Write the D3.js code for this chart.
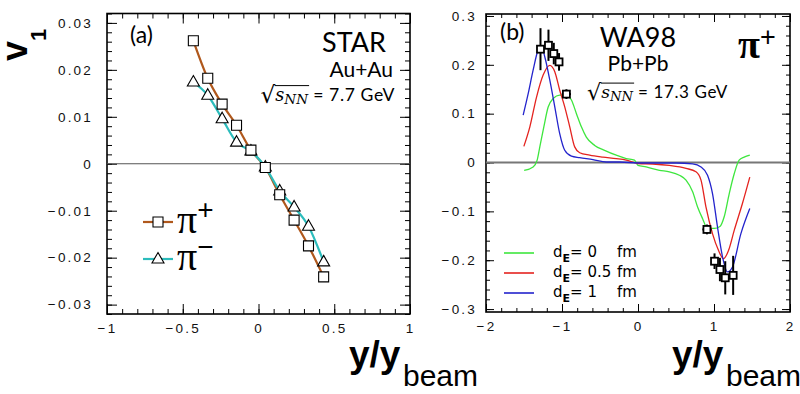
<!DOCTYPE html>
<html><head><meta charset="utf-8">
<script src="https://cdn.jsdelivr.net/npm/d3@7"></script>
<style>body{margin:0;background:#fff}svg{display:block}</style>
</head><body>
<svg id="chart" width="800" height="394"></svg>
<script>
// ---------- Panel (a): STAR Au+Au 7.7 GeV ----------
const aX        = [-0.43, -0.335, -0.24, -0.145, -0.05, 0.045, 0.14, 0.235, 0.33, 0.43];
const aPiPlus   = [0.0262, 0.0182, 0.0127, 0.0082, 0.0029, -0.0008, -0.0066, -0.012, -0.0175, -0.0241];
const aPiMinus  = [0.0174, 0.0146, 0.0096, 0.0046, 0.0027, -0.0007, -0.0058, -0.0092, -0.0133, -0.0209];
const aXTicks   = [-1, -0.5, 0, 0.5, 1];
const aYTicks   = [-0.03, -0.02, -0.01, 0, 0.01, 0.02, 0.03];

// ---------- Panel (b): WA98 Pb+Pb 17.3 GeV ----------
const bDataX    = [-1.283, -1.178, -1.108, -1.039, -0.942, 0.907, 1.007, 1.078, 1.148, 1.252];
const bDataY    = [0.232, 0.240, 0.223, 0.206, 0.140, -0.137, -0.202, -0.219, -0.236, -0.231];
const bDataYErr = [0.043, 0.032, 0.022, 0.018, 0.010, 0.010, 0.016, 0.024, 0.034, 0.040];
const bDataXErr = [0, 0, 0, 0, 0.06, 0.06, 0, 0, 0, 0];

const bGreenX = [-1.498,-1.38,-1.327,-1.292,-1.239,-1.183,-1.117,-1.03,-0.942,-0.876,-0.81,-0.745,-0.68,-0.57,-0.44,-0.286,-0.155,-0.046,0,0.107,0.282,0.413,0.544,0.632,0.719,0.784,0.85,0.915,1.003,1.078,1.134,1.2,1.266,1.331,1.397,1.471];
const bGreenY = [-0.016,-0.009,0.005,0.032,0.073,0.113,0.131,0.138,0.138,0.128,0.100,0.073,0.052,0.035,0.025,0.015,0.008,0.005,-0.006,-0.009,-0.016,-0.019,-0.026,-0.036,-0.060,-0.091,-0.115,-0.135,-0.135,-0.131,-0.111,-0.064,-0.023,0.005,0.011,0.015];
const bRedX = [-1.502,-1.423,-1.335,-1.248,-1.161,-1.095,-1.03,-0.964,-0.898,-0.833,-0.767,-0.636,-0.462,-0.286,-0.155,0,0.194,0.413,0.632,0.763,0.829,0.894,0.981,1.06,1.125,1.191,1.266,1.374,1.471];
const bRedY = [0.033,0.073,0.134,0.179,0.199,0.186,0.148,0.114,0.073,0.032,0.020,0.015,0.011,0.008,0.005,-0.002,-0.003,-0.006,-0.012,-0.019,-0.036,-0.091,-0.146,-0.18,-0.197,-0.18,-0.139,-0.084,-0.030];
const bBlueX = [-1.511,-1.445,-1.38,-1.314,-1.27,-1.226,-1.161,-1.095,-1.03,-0.964,-0.876,-0.767,-0.593,-0.417,-0.243,0,0.239,0.5,0.719,0.829,0.915,0.981,1.046,1.112,1.177,1.243,1.353,1.471];
const bBlueY = [0.097,0.141,0.189,0.230,0.237,0.216,0.169,0.114,0.059,0.025,0.013,0.010,0.006,0.001,0.001,-0.001,-0.001,-0.001,-0.003,-0.009,-0.026,-0.064,-0.132,-0.193,-0.224,-0.214,-0.146,-0.094];
const bXTicks = [-2, -1, 0, 1, 2];
const bYTicks = [-0.3, -0.2, -0.1, 0, 0.1, 0.2, 0.3];
const bLegendLabels = ["0", "0.5", "1"];

const colPlus = "#b0581c", colMinus = "#2cbcbc";
const colGreen = "#3ee63e", colRed = "#e4231f", colBlue = "#2323cc";

const svg = d3.select("#chart");
const tickFont = "'Liberation Sans', Arial, sans-serif";
const annFont = "Lato, 'Liberation Sans', sans-serif";

const xa = d3.scaleLinear().domain([-1, 1]).range([107, 410]);
const ya = d3.scaleLinear().domain([-0.032, 0.032]).range([314, 13.5]);
const xb = d3.scaleLinear().domain([-2, 2]).range([486, 790]);
const yb = d3.scaleLinear().domain([-0.306, 0.304]).range([312, 14]);

const fmt = d => d3.format("~g")(d);

function frame(x, y, xMaj, xMin, yMaj, yMin, L, l, padX, padY) {
  const g = svg.append("g");
  const [x0, x1] = x.range(), [y0, y1] = y.range();
  const style = sel => {
    sel.select(".domain").remove();
    sel.attr("font-family", tickFont).attr("font-size", 13.5);
    sel.selectAll("line").attr("stroke", "#000").attr("stroke-width", 1);
    sel.selectAll("text").attr("fill", "#111").attr("letter-spacing", "2.2px");
  };
  g.append("g").attr("transform", `translate(0,${y0})`).call(d3.axisBottom(x).tickValues(xMaj).tickSize(-L).tickPadding(padX).tickFormat(fmt)).call(style);
  g.append("g").attr("transform", `translate(0,${y0})`).call(d3.axisBottom(x).tickValues(xMin).tickSize(-l).tickFormat("")).call(style);
  g.append("g").attr("transform", `translate(0,${y1})`).call(d3.axisTop(x).tickValues(xMaj).tickSize(-L).tickFormat("")).call(style);
  g.append("g").attr("transform", `translate(0,${y1})`).call(d3.axisTop(x).tickValues(xMin).tickSize(-l).tickFormat("")).call(style);
  g.append("g").attr("transform", `translate(${x0},0)`).call(d3.axisLeft(y).tickValues(yMaj).tickSize(-L).tickPadding(padY).tickFormat(fmt)).call(style);
  g.append("g").attr("transform", `translate(${x0},0)`).call(d3.axisLeft(y).tickValues(yMin).tickSize(-l).tickFormat("")).call(style);
  g.append("g").attr("transform", `translate(${x1},0)`).call(d3.axisRight(y).tickValues(yMaj).tickSize(-L).tickFormat("")).call(style);
  g.append("g").attr("transform", `translate(${x1},0)`).call(d3.axisRight(y).tickValues(yMin).tickSize(-l).tickFormat("")).call(style);
  g.append("rect").attr("x", x0).attr("y", y1).attr("width", x1 - x0).attr("height", y0 - y1)
    .attr("fill", "none").attr("stroke", "#000").attr("stroke-width", 1.6);
  return g;
}

// ---------- Panel (a) ----------
const aXMin = d3.range(-10, 11).map(v => v / 10);
const aYMin = d3.range(-16, 17).map(v => v / 500);
frame(xa, ya, aXTicks, aXMin, aYTicks, aYMin, 10, 5, 9, 14);

svg.append("line").attr("x1", xa(-1)).attr("x2", xa(1)).attr("y1", ya(0)).attr("y2", ya(0))
  .attr("stroke", "#555").attr("stroke-width", 1);

const lineA = d3.line().curve(d3.curveMonotoneX);
svg.append("path").attr("d", lineA(aX.map((v, i) => [xa(v), ya(aPiPlus[i])])))
  .attr("fill", "none").attr("stroke", colPlus).attr("stroke-width", 2.2);
svg.append("path").attr("d", lineA(aX.map((v, i) => [xa(v), ya(aPiMinus[i])])))
  .attr("fill", "none").attr("stroke", colMinus).attr("stroke-width", 2.2);

const sq = "M-5,-5H5V5H-5Z";
const tri = "M0,-6.5L6,4L-6,4Z";
svg.append("g").selectAll("path").data(aX).join("path")
  .attr("transform", (v, i) => `translate(${xa(v)},${ya(aPiMinus[i])})`).attr("d", tri)
  .attr("fill", "#fff").attr("stroke", "#000").attr("stroke-width", 1.1);
svg.append("g").selectAll("path").data(aX).join("path")
  .attr("transform", (v, i) => `translate(${xa(v)},${ya(aPiPlus[i])})`).attr("d", sq)
  .attr("fill", "#fff").attr("stroke", "#000").attr("stroke-width", 1.1);

// legend (a)
const legA = [{c: colPlus, m: sq, y: 222, s: "+", b: 233}, {c: colMinus, m: tri, y: 259, s: "\u2212", b: 270}];
legA.forEach(d => {
  svg.append("line").attr("x1", 143).attr("x2", 173).attr("y1", d.y).attr("y2", d.y).attr("stroke", d.c).attr("stroke-width", 2.2);
  svg.append("path").attr("d", d.m).attr("transform", `translate(158,${d.y})`).attr("fill", "#fff").attr("stroke", "#000").attr("stroke-width", 1.1);
  const t = svg.append("text").attr("x", 177).attr("y", d.b).attr("font-family", "'Liberation Serif', serif");
  t.append("tspan").attr("font-size", 40).text("\u03c0");
  t.append("tspan").attr("font-size", 28).attr("font-family", "'Liberation Sans', sans-serif").attr("dy", -14).text(d.s);
});

// annotations (a)
svg.append("text").attr("x", 130).attr("y", 43).attr("font-family", annFont).attr("font-size", 23).text("(a)");
svg.append("text").attr("x", 386).attr("y", 52).attr("text-anchor", "end").attr("font-family", annFont).attr("font-size", 27).text("STAR");
svg.append("text").attr("x", 393).attr("y", 77).attr("text-anchor", "end").attr("font-family", annFont).attr("font-size", 21).text("Au+Au");

function sqrtS(xPos, yPos, anchorEnd, value, fs) {
  const t = svg.append("text").attr("x", xPos).attr("y", yPos).attr("font-size", fs);
  t.append("tspan").attr("font-family", "'DejaVu Sans', sans-serif").attr("font-size", fs * 1.45).attr("dy", 2).text("\u221a");
  t.append("tspan").attr("font-family", "'DejaVu Serif', serif").attr("font-style", "italic").attr("font-size", fs * 1.1).attr("dy", -2).text("s");
  t.append("tspan").attr("font-family", "'DejaVu Serif', serif").attr("font-style", "italic").attr("font-size", fs * 0.85).attr("dy", 3).text("NN");
  t.append("tspan").attr("font-family", annFont).attr("font-size", fs * 1.1).attr("letter-spacing", "0.6px").attr("dy", -3).text(" = " + value + " GeV");
  const node = t.node();
  if (anchorEnd) {
    const w = node.getComputedTextLength();
    t.attr("x", xPos - w);
  }
  const s0 = node.getStartPositionOfChar(1).x;
  const s1 = node.getEndPositionOfChar(3).x;
  svg.append("line").attr("x1", s0 - 0.5).attr("x2", s1 + 1).attr("y1", yPos - fs + 0.6).attr("y2", yPos - fs + 0.6)
    .attr("stroke", "#000").attr("stroke-width", 1);
}
sqrtS(395, 101, true, "7.7", 16);

// axis titles (a)
const v1 = svg.append("text").attr("transform", "translate(27,61) rotate(-90)")
  .attr("font-family", "'Liberation Sans', Arial, sans-serif").attr("font-weight", "bold");
v1.append("tspan").attr("font-size", 36).text("v");
v1.append("tspan").attr("font-size", 22).attr("dy", 19).text("1");

function yTitle(x0, x1) {
  svg.append("text").attr("x", x0).attr("y", 367).attr("font-family", "'Liberation Sans', Arial, sans-serif")
    .attr("font-weight", "bold").attr("font-size", 37).text("y/y");
  svg.append("text").attr("x", x1).attr("y", 386).attr("font-family", "'Liberation Sans', Arial, sans-serif")
    .attr("font-size", 30).text("beam");
}
yTitle(349, 403);

// ---------- Panel (b) ----------
const bXMin = d3.range(-10, 11).map(v => v / 5);
const bYMin = d3.range(-15, 16).map(v => v / 50);
frame(xb, yb, bXTicks, bXMin, bYTicks, bYMin, 8, 4, 9, 9);

svg.append("line").attr("x1", xb(-2)).attr("x2", xb(2)).attr("y1", yb(0)).attr("y2", yb(0))
  .attr("stroke", "#777").attr("stroke-width", 1.8);

const lineB = d3.line().curve(d3.curveMonotoneX);
[[bGreenX, bGreenY, colGreen], [bRedX, bRedY, colRed], [bBlueX, bBlueY, colBlue]].forEach(([xs, ys, c]) => {
  svg.append("path").attr("d", lineB(xs.map((v, i) => [xb(v), yb(ys[i])])))
    .attr("fill", "none").attr("stroke", c).attr("stroke-width", 1.3);
});

const eb = svg.append("g").attr("stroke", "#000").attr("stroke-width", 2);
bDataX.forEach((v, i) => {
  eb.append("line").attr("x1", xb(v)).attr("x2", xb(v))
    .attr("y1", yb(bDataY[i] - bDataYErr[i])).attr("y2", yb(bDataY[i] + bDataYErr[i]));
  if (bDataXErr[i] > 0) {
    eb.append("line").attr("y1", yb(bDataY[i])).attr("y2", yb(bDataY[i]))
      .attr("x1", xb(v - bDataXErr[i])).attr("x2", xb(v + bDataXErr[i]));
  }
});
svg.append("g").selectAll("rect").data(bDataX).join("rect")
  .attr("x", v => xb(v) - 3.5).attr("y", (v, i) => yb(bDataY[i]) - 3.5)
  .attr("width", 7).attr("height", 7).attr("fill", "#fff").attr("stroke", "#000").attr("stroke-width", 1.8);

// legend (b)
const legCols = [colGreen, colRed, colBlue];
const legY = [253, 273, 293];
bLegendLabels.forEach((lab, i) => {
  svg.append("line").attr("x1", 504).attr("x2", 534).attr("y1", legY[i]).attr("y2", legY[i])
    .attr("stroke", legCols[i]).attr("stroke-width", 1.6);
  const t = svg.append("text").attr("x", 553).attr("y", legY[i] + 4).attr("font-family", "'DejaVu Sans', sans-serif").attr("font-size", 15);
  t.append("tspan").text("d");
  t.append("tspan").attr("font-size", 11).attr("font-weight", "bold").attr("dy", 5).text("E");
  t.append("tspan").attr("dy", -5).text("= " + lab);
  svg.append("text").attr("x", 617).attr("y", legY[i] + 4).attr("font-family", "'DejaVu Sans', sans-serif").attr("font-size", 15).text("fm");
});

// annotations (b)
svg.append("text").attr("x", 500).attr("y", 40).attr("font-family", annFont).attr("font-size", 23).text("(b)");
svg.append("text").attr("x", 638).attr("y", 47).attr("text-anchor", "middle").attr("font-family", annFont).attr("font-size", 27).text("WA98");
svg.append("text").attr("x", 638).attr("y", 71).attr("text-anchor", "middle").attr("font-family", annFont).attr("font-size", 21).text("Pb+Pb");
sqrtS(587, 98, false, "17.3", 15.5);
const pib = svg.append("text").attr("x", 738).attr("y", 58).attr("font-family", "'Liberation Serif', serif").attr("font-weight", "bold");
pib.append("tspan").attr("font-size", 40).text("\u03c0");
pib.append("tspan").attr("font-size", 27).attr("font-family", "'Liberation Sans', sans-serif").attr("font-weight", "normal").attr("dy", -12).text("+");

yTitle(672, 726);
</script>
</body></html>
